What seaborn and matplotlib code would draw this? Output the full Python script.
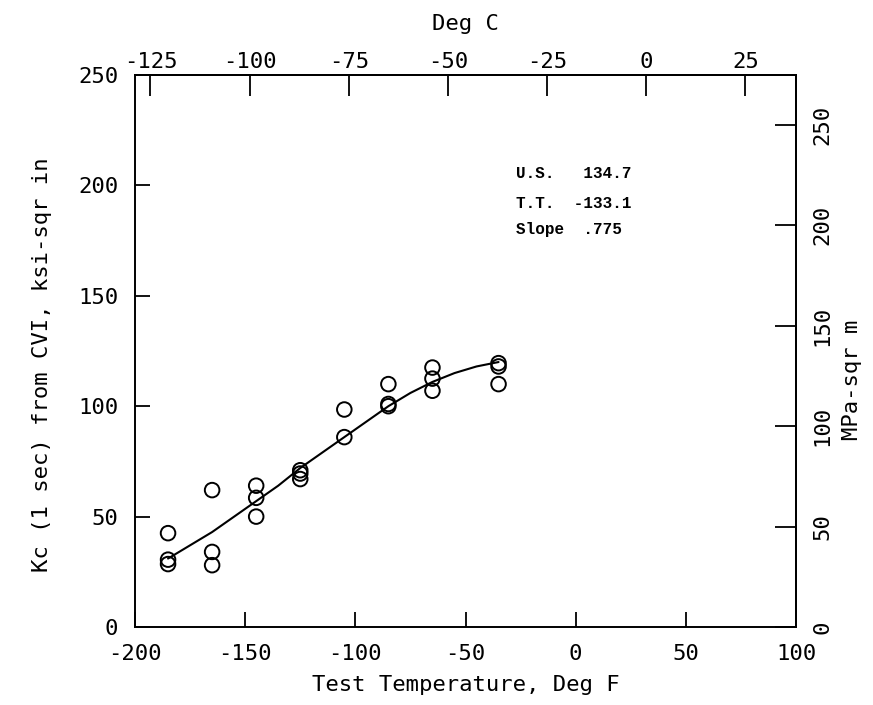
import matplotlib
matplotlib.use("Agg")
import matplotlib.pyplot as plt
import seaborn as sns
import pandas as pd

# ---- data ----
test_temp_F = [-185, -185, -185, -165, -165, -165, -145, -145, -145,
               -125, -125, -125, -105, -105, -85, -85, -85,
               -65, -65, -65, -35, -35, -35]
kc_ksi = [42.5, 30.5, 28.5, 62.0, 34.0, 28.0, 64.0, 58.5, 50.0,
          71.0, 69.5, 67.0, 98.5, 86.0, 110.0, 101.0, 100.0,
          117.5, 112.5, 107.0, 119.5, 118.0, 110.0]

curve_F = [-185, -175, -165, -155, -145, -135, -125, -115,
           -105, -95, -85, -75, -65, -55, -45, -35]
curve_kc = [31, 37, 43, 50, 57, 64, 72, 79,
            86, 93, 100, 106, 111, 115, 118, 120]

x_ticks_F = [-200, -150, -100, -50, 0, 50, 100]
y_ticks_ksi = [0, 50, 100, 150, 200, 250]
top_ticks_C = [-125, -100, -75, -50, -25, 0, 25]
right_ticks_MPa = [0, 50, 100, 150, 200, 250]
fit_text = ["U.S.   134.7", "T.T.  -133.1", "Slope  .775"]

KSI_TO_MPA = 1.0988

pts = pd.DataFrame({"T": test_temp_F, "Kc": kc_ksi})
crv = pd.DataFrame({"T": curve_F, "Kc": curve_kc})

sns.set_theme(style="white")
plt.rcParams["font.family"] = ["DejaVu Sans Mono", "DejaVu Sans"]

fig = plt.figure(figsize=(8.73, 7.05), dpi=100)
ax = fig.add_axes([135 / 873, 1 - 627 / 705, (796 - 135) / 873, (627 - 75) / 705])

sns.lineplot(data=crv, x="T", y="Kc", ax=ax, color="black", linewidth=1.5,
             sort=True, estimator=None)
sns.scatterplot(data=pts, x="T", y="Kc", ax=ax, marker="o", s=110,
                facecolor="none", edgecolor="black", linewidth=1.4, zorder=3)

ax.set_xlim(-200, 100)
ax.set_ylim(0, 250)
ax.set_xticks(x_ticks_F)
ax.set_yticks(y_ticks_ksi)
ax.set_xticklabels([str(v) for v in x_ticks_F])
ax.set_yticklabels([str(v) for v in y_ticks_ksi])

for s in ax.spines.values():
    s.set_visible(True)
    s.set_color("black")
    s.set_linewidth(1.4)

ax.tick_params(axis="x", which="both", direction="in", length=11, width=1.3,
               colors="black", labelsize=16, pad=12, top=False, bottom=True)
ax.tick_params(axis="y", which="both", direction="in", length=11, width=1.3,
               colors="black", labelsize=16, pad=12, right=False, left=True)

ax.set_xlabel("Test Temperature, Deg F", fontsize=16, labelpad=8, color="black")
ax.set_ylabel("Kc (1 sec) from CVI, ksi-sqr in", fontsize=16, color="black")
ylab = ax.yaxis.label
ylab.set_rotation_mode("anchor")
ylab.set_horizontalalignment("center")
ylab.set_verticalalignment("center")
ax.yaxis.set_label_coords(-0.141, 0.475)

# top Deg C axis
secx = ax.secondary_xaxis("top", functions=(lambda f: (f - 32) * 5 / 9,
                                             lambda c: c * 9 / 5 + 32))
secx.set_xticks(top_ticks_C)
secx.set_xticklabels([str(v) for v in top_ticks_C])
secx.tick_params(direction="in", length=15, width=1.3, labelsize=16, pad=2,
                 colors="black")
secx.set_xlabel("Deg C", fontsize=16, labelpad=16, color="black")

# right MPa axis
secy = ax.secondary_yaxis("right", functions=(lambda k: k * KSI_TO_MPA,
                                               lambda m: m / KSI_TO_MPA))
secy.set_yticks(right_ticks_MPa)
secy.set_yticklabels([str(v) for v in right_ticks_MPa])
secy.tick_params(direction="in", length=15, width=1.3, labelsize=16, pad=12,
                 labelrotation=90, colors="black")
for lab in secy.get_yticklabels():
    lab.set_verticalalignment("center")
secy.set_ylabel("MPa-sqr m", fontsize=16, color="black", rotation=90)
rlab = secy.yaxis.label
rlab.set_rotation_mode("anchor")
rlab.set_horizontalalignment("center")
rlab.set_verticalalignment("center")
secy.yaxis.set_label_coords(1.085, 0.447, transform=ax.transAxes)

for s in list(secx.spines.values()) + list(secy.spines.values()):
    s.set_linewidth(1.4)
    s.set_color("black")

ys = [0.822, 0.768, 0.721]
for txt, yy in zip(fit_text, ys):
    ax.text(0.576, yy, txt, transform=ax.transAxes, ha="left", va="center",
            fontsize=11.5, fontweight="bold",
            family=["Liberation Mono", "DejaVu Sans Mono"], color="black")

fig.savefig("out.png", dpi=100)
